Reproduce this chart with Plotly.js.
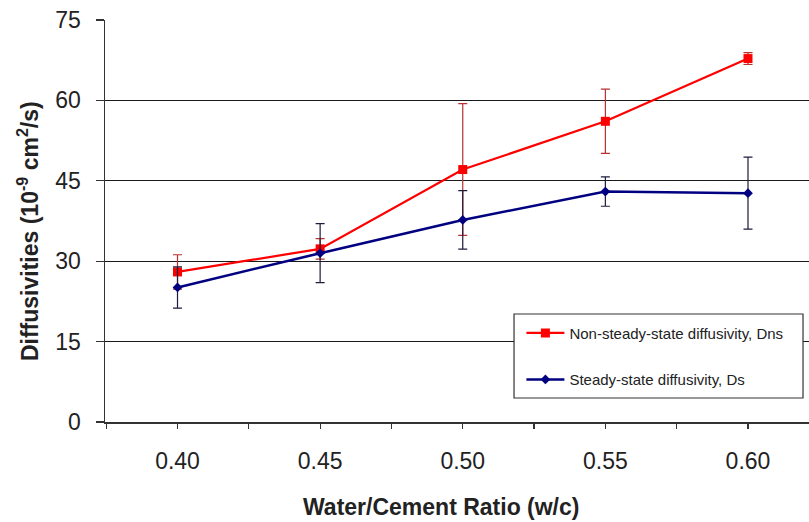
<!DOCTYPE html>
<html>
<head>
<meta charset="utf-8">
<script src="https://cdn.plot.ly/plotly-3.0.1.min.js"></script>
<style>html,body{margin:0;padding:0;background:#fff;}#chart{width:809px;height:522px;}</style>
</head>
<body>
<div id="chart"></div>
<script>
// Data
var wc = [0.40, 0.45, 0.50, 0.55, 0.60];
var dns = [28.0, 32.3, 47.1, 56.1, 67.8];
var dnsErr = [3.2, 1.9, 12.3, 6.0, 1.1];
var ds = [25.1, 31.5, 37.7, 43.0, 42.7];
var dsErr = [3.85, 5.5, 5.45, 2.75, 6.7];

var xTickVals = [0.40, 0.45, 0.50, 0.55, 0.60];
var xTickText = ["0.40", "0.45", "0.50", "0.55", "0.60"];
var xAllTicks = [0.375, 0.40, 0.425, 0.45, 0.475, 0.50, 0.525, 0.55, 0.575, 0.60];
var yTickVals = [0, 15, 30, 45, 60, 75];
var yGridVals = [15, 30, 45, 60];
var seriesNames = ["Non-steady-state diffusivity, Dns", "Steady-state diffusivity, Ds"];

var FONT = "Liberation Sans, Arial, sans-serif";
var xRange = [0.37458, 0.62139];
var yRange = [0, 75];

var traces = [
  {
    x: wc, y: dns, name: seriesNames[0], type: "scatter", mode: "lines+markers",
    legendgroup: "a",
    line: {color: "#ff0000", width: 2.2},
    marker: {symbol: "square", size: 9, color: "#ff0000"},
    error_y: {type: "data", array: dnsErr, visible: true, color: "#b83030", thickness: 1.2, width: 4.5}
  },
  {
    x: wc, y: ds, name: seriesNames[1], type: "scatter", mode: "lines+markers",
    legendgroup: "b",
    line: {color: "#000080", width: 2.5},
    marker: {symbol: "diamond", size: 7.5, color: "#000080"},
    error_y: {type: "data", array: dsErr, visible: true, color: "#1c1c3c", thickness: 1.2, width: 4.5}
  }
];

var layout = {
  width: 809, height: 522,
  margin: {l: 105, r: 0, t: 20, b: 100, pad: 0},
  paper_bgcolor: "#ffffff", plot_bgcolor: "#ffffff",
  font: {family: FONT, color: "#222222", size: 23},
  showlegend: true,
  legend: {
    x: 0.5915, y: 0.262, xanchor: "left", yanchor: "top",
    bgcolor: "rgba(0,0,0,0)", borderwidth: 0,
    font: {family: FONT, size: 15, color: "#222222"},
    tracegroupgap: 24, itemwidth: 38, traceorder: "grouped"
  },
  xaxis: {
    range: xRange, tickmode: "array", tickvals: xTickVals, ticktext: xTickText,
    ticks: "outside", ticklen: 5, tickwidth: 1.2, tickcolor: "#333",
    showline: true, linecolor: "#333", linewidth: 1.5,
    showgrid: false, zeroline: false,
    tickfont: {family: FONT, size: 23, color: "#222"},
    ticklabelstandoff: 13,
    minor: {tickmode: "array", tickvals: xAllTicks, ticks: "outside", ticklen: 5, tickwidth: 1.2, tickcolor: "#333", showgrid: false}
  },
  xaxis2: {
    overlaying: "x", anchor: "y", range: xRange, tickmode: "array", tickvals: xAllTicks,
    ticks: "inside", ticklen: 6, tickwidth: 1.2, tickcolor: "#333",
    showticklabels: false, showline: false, showgrid: false, zeroline: false, side: "bottom"
  },
  yaxis: {
    range: yRange, tickmode: "array", tickvals: yTickVals,
    ticks: "outside", ticklen: 8, tickwidth: 1.2, tickcolor: "#333",
    showline: true, linecolor: "#333", linewidth: 1.5,
    showgrid: false, zeroline: false,
    tickfont: {family: FONT, size: 23, color: "#222"},
    ticklabelstandoff: 10,
    minor: {tickmode: "array", tickvals: yGridVals, ticks: "", showgrid: true, gridcolor: "#1a1a1a", gridwidth: 1.3}
  },
  yaxis2: {
    overlaying: "y", anchor: "x", range: yRange, tickmode: "array", tickvals: yTickVals,
    ticks: "inside", ticklen: 5, tickwidth: 1.2, tickcolor: "#333",
    showticklabels: false, showline: false, showgrid: false, zeroline: false, side: "left"
  },
  shapes: [
    {type: "rect", xref: "paper", yref: "paper", x0: 0.581, x1: 0.9915, y0: 0.0597, y1: 0.2687,
     fillcolor: "#ffffff", line: {color: "#333333", width: 1.2}, layer: "above"}
  ],
  annotations: [
    {text: "<b>Water/Cement Ratio (w/c)</b>", xref: "paper", yref: "paper", x: 0.4766, y: -0.212,
     xanchor: "center", yanchor: "middle", showarrow: false, font: {family: FONT, size: 23, color: "#222"}},
    {text: "<b>Diffusivities (10<sup>-9</sup> cm<sup>2</sup>/s)</b>", xref: "paper", yref: "paper", x: 0, xshift: -77, y: 0.475,
     xanchor: "center", yanchor: "middle", textangle: -90, showarrow: false, font: {family: FONT, size: 23, color: "#222"}}
  ]
};

Plotly.newPlot("chart", traces, layout, {displayModeBar: false, staticPlot: true});
</script>
</body>
</html>
